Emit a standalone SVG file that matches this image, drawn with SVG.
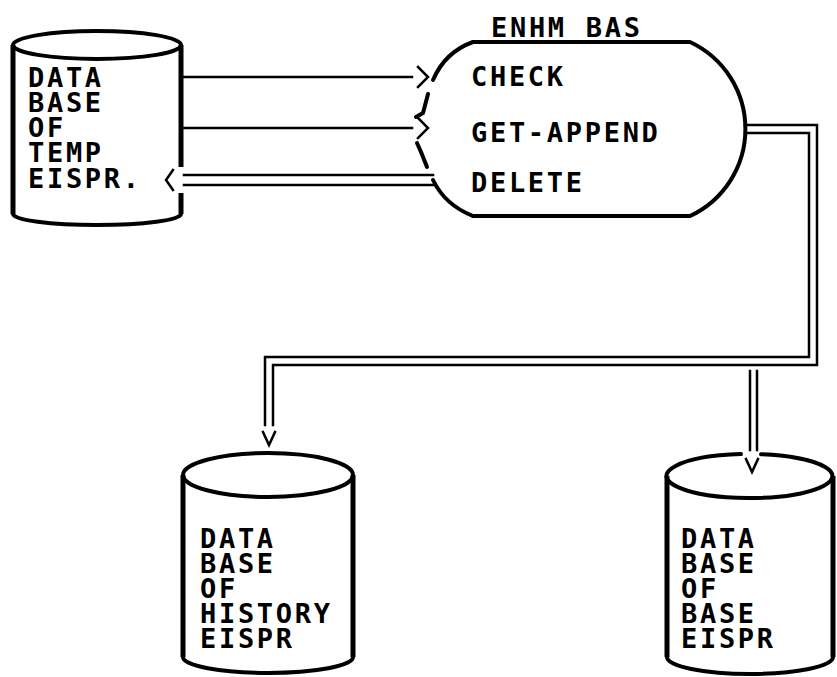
<svg xmlns="http://www.w3.org/2000/svg" width="837" height="677" viewBox="0 0 837 677">
  <style>
    .ln { fill: none; stroke: #000; stroke-width: 2.5; stroke-linecap: square; }
    .sh { fill: none; stroke: #000; stroke-width: 4; stroke-linecap: round; stroke-linejoin: round; }
    .wall { fill: none; stroke: #000; stroke-width: 5; }
    .t { font-family: "DejaVu Sans Mono", "Liberation Mono", monospace; font-size: 27px; font-weight: bold; letter-spacing: 2.7px; fill: #000; }
  </style>
  <rect width="837" height="677" fill="#fff"/>

  <!-- store: temporary records -->
  <g id="db-temp">
    <ellipse class="sh" cx="97" cy="45" rx="84" ry="14"/>
    <path class="wall" d="M 13 45 L 13 214"/>
    <path class="wall" d="M 181 45 L 181 167 M 181 193 L 181 214"/>
    <path class="sh" d="M 13 214 A 84 11 0 0 0 181 214"/>
    <text class="t" x="28" y="87">DATA</text>
    <text class="t" x="28" y="112">BASE</text>
    <text class="t" x="28" y="137">OF</text>
    <text class="t" x="28" y="162">TEMP</text>
    <text class="t" x="28" y="188">EISPR.</text>
  </g>

  <!-- process: ENHM_BAS -->
  <g id="proc-enhm-bas">
    <path class="sh" d="M 473 42 L 690 42 A 96 96 0 0 1 690 216 L 473 216"/>
    <path class="sh" d="M 473 42 Q 445 52 433 80"/>
    <path class="sh" d="M 428 94 L 423 113 L 416 117"/>
    <path class="sh" d="M 417 143 L 421 152 L 427 167"/>
    <path class="sh" d="M 433 180 Q 445 205 473 216"/>
    <text class="t" x="491" y="37">ENHM_BAS</text>
    <text class="t" x="471" y="86">CHECK</text>
    <text class="t" x="471" y="142">GET-APPEND</text>
    <text class="t" x="471" y="192">DELETE</text>
  </g>

  <!-- store: history records -->
  <g id="db-history">
    <ellipse class="sh" cx="268" cy="475" rx="85" ry="22"/>
    <path class="wall" d="M 183 475 L 183 657 M 353 475 L 353 657"/>
    <path class="sh" d="M 183 657 A 85 16 0 0 0 353 657"/>
    <text class="t" x="200" y="548">DATA</text>
    <text class="t" x="200" y="573">BASE</text>
    <text class="t" x="200" y="598">OF</text>
    <text class="t" x="200" y="623">HISTORY</text>
    <text class="t" x="200" y="648">EISPR</text>
  </g>

  <!-- store: base records -->
  <g id="db-base">
    <path class="sh" d="M 741 454.1 A 83 22 0 1 0 761 454.2"/>
    <path class="wall" d="M 667 476 L 667 657 M 833 476 L 833 657"/>
    <path class="sh" d="M 667 657 A 83 17 0 0 0 833 657"/>
    <text class="t" x="681" y="548">DATA</text>
    <text class="t" x="681" y="573">BASE</text>
    <text class="t" x="681" y="598">OF</text>
    <text class="t" x="681" y="623">BASE</text>
    <text class="t" x="681" y="648">EISPR</text>
  </g>

  <!-- connectors -->
  <g id="connectors">
    <!-- temp store to CHECK -->
    <path class="ln" d="M 183 77 L 412 77"/>
    <path class="ln" d="M 418 67 L 428 77 L 418 87"/>
    <!-- temp store to GET-APPEND -->
    <path class="ln" d="M 183 128 L 412 128"/>
    <path class="ln" d="M 418 118 L 428 128 L 418 138"/>
    <!-- DELETE back to temp store (double line) -->
    <path class="ln" d="M 184 175 L 433 175 M 184 185 L 433 185"/>
    <path class="ln" d="M 173 170 L 166 180 L 173 190"/>
    <!-- GET-APPEND out to history and base stores (double line) -->
    <path class="ln" d="M 745 125 L 817 125 L 817 365 L 273 365 L 273 425"/>
    <path class="ln" d="M 745 133 L 809 133 L 809 357 L 265 357 L 265 425"/>
    <path class="ln" d="M 263 432 L 269 445 L 275 432"/>
    <path class="ln" d="M 750 371 L 750 450 M 757 371 L 757 450"/>
    <path class="ln" d="M 746 459 L 752 472 L 758 459"/>
  </g>
</svg>
